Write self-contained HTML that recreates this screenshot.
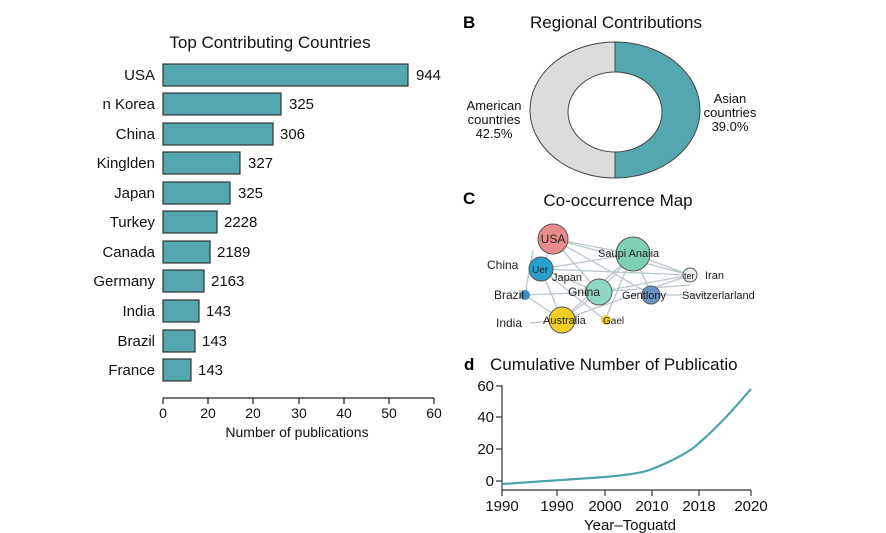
<!DOCTYPE html>
<html><head><style>
body{margin:0;background:#fff;}
svg{display:block;font-family:"Liberation Sans",sans-serif;}
</style></head><body>
<svg width="886" height="533" viewBox="0 0 886 533">
<text x="270" y="48" font-size="17" text-anchor="middle" fill="#111">Top Contributing Countries</text>
<g font-size="15" fill="#111">
<g stroke="#333" stroke-width="1.2" fill="#55a7af">
<rect x="163" y="64" width="245" height="22"/>
<rect x="163" y="93" width="118" height="22"/>
<rect x="163" y="123" width="110" height="22"/>
<rect x="163" y="152" width="77" height="22"/>
<rect x="163" y="182" width="67" height="22"/>
<rect x="163" y="211" width="54" height="22"/>
<rect x="163" y="241" width="47" height="22"/>
<rect x="163" y="270" width="41" height="22"/>
<rect x="163" y="300" width="36" height="22"/>
<rect x="163" y="330" width="32" height="22"/>
<rect x="163" y="359" width="28" height="22"/>
</g>
<g text-anchor="end">
<text x="155" y="80">USA</text><text x="155" y="109">n Korea</text><text x="155" y="139">China</text>
<text x="155" y="168">Kinglden</text><text x="155" y="198">Japan</text><text x="155" y="227">Turkey</text>
<text x="155" y="257">Canada</text><text x="155" y="286">Germany</text><text x="155" y="316">India</text>
<text x="155" y="346">Brazil</text><text x="155" y="375">France</text>
</g>
<text x="416" y="80">944</text><text x="289" y="109">325</text><text x="280" y="139">306</text>
<text x="248" y="168">327</text><text x="238" y="198">325</text><text x="224" y="227">2228</text>
<text x="217" y="257">2189</text><text x="211" y="286">2163</text><text x="206" y="316">143</text>
<text x="202" y="346">143</text><text x="198" y="375">143</text>
</g>
<rect x="0" y="60" width="93" height="330" fill="#fff"/>
<g stroke="#222" stroke-width="1.2">
<line x1="163" y1="398" x2="434" y2="398"/>
<line x1="163" y1="398" x2="163" y2="404"/><line x1="208" y1="398" x2="208" y2="404"/>
<line x1="253" y1="398" x2="253" y2="404"/><line x1="299" y1="398" x2="299" y2="404"/>
<line x1="344" y1="398" x2="344" y2="404"/><line x1="389" y1="398" x2="389" y2="404"/>
<line x1="434" y1="398" x2="434" y2="404"/>
</g>
<g font-size="14" text-anchor="middle" fill="#111">
<text x="163" y="418">0</text><text x="208" y="418">20</text><text x="253" y="418">20</text>
<text x="299" y="418">30</text><text x="344" y="418">40</text><text x="389" y="418">50</text><text x="434" y="418">60</text>
<text x="297" y="437">Number of publications</text>
</g>

<text x="463" y="28" font-size="17" font-weight="bold">B</text>
<text x="616" y="28" font-size="17" text-anchor="middle" fill="#111">Regional Contributions</text>
<path d="M615 42 A85 68 0 0 0 615 178 L615 152 A47 40 0 0 1 615 72 Z" fill="#dcdcdc" stroke="#444"/>
<path d="M615 42 A85 68 0 0 1 615 178 L615 152 A47 40 0 0 0 615 72 Z" fill="#55a7af" stroke="#444"/>
<g font-size="13" text-anchor="middle" fill="#111">
<text x="494" y="110">American</text><text x="494" y="124">countries</text><text x="494" y="138">42.5%</text>
<text x="730" y="103">Asian</text><text x="730" y="117">countries</text><text x="730" y="131">39.0%</text>
</g>

<text x="463" y="204" font-size="17" font-weight="bold">C</text>
<text x="618" y="206" font-size="17" text-anchor="middle" fill="#111">Co-occurrence Map</text>
<g stroke="#b9c6cb" stroke-width="1.3">
<line x1="553" y1="239" x2="633" y2="254"/><line x1="553" y1="239" x2="599" y2="292"/>
<line x1="553" y1="239" x2="690" y2="275"/><line x1="553" y1="239" x2="542" y2="270"/>
<line x1="553" y1="239" x2="652" y2="295"/><line x1="541" y1="269" x2="633" y2="254"/>
<line x1="541" y1="269" x2="599" y2="292"/><line x1="541" y1="269" x2="562" y2="320"/>
<line x1="633" y1="254" x2="599" y2="292"/><line x1="633" y1="254" x2="562" y2="320"/>
<line x1="633" y1="254" x2="690" y2="275"/><line x1="633" y1="254" x2="652" y2="295"/>
<line x1="599" y1="292" x2="690" y2="275"/><line x1="599" y1="292" x2="562" y2="320"/>
<line x1="525" y1="295" x2="599" y2="292"/><line x1="525" y1="295" x2="562" y2="320"/>
<line x1="530" y1="323" x2="562" y2="320"/><line x1="562" y1="320" x2="690" y2="275"/>
<line x1="652" y1="295" x2="710" y2="295"/><line x1="605" y1="320" x2="633" y2="254"/>
<line x1="541" y1="269" x2="605" y2="320"/><line x1="533" y1="250" x2="525" y2="295"/>
<line x1="599" y1="292" x2="690" y2="285"/><line x1="541" y1="269" x2="690" y2="275"/>
</g>
<circle cx="553" cy="239" r="15" fill="#e98b8b" stroke="#555"/>
<circle cx="633" cy="254" r="17" fill="#7fcfb7" stroke="#555"/>
<circle cx="541" cy="269" r="12" fill="#2a9fcb" stroke="#555"/>
<circle cx="599" cy="292" r="13" fill="#8fd6c4" stroke="#555"/>
<circle cx="651" cy="295" r="9" fill="#6c93c9" stroke="#555"/>
<circle cx="690" cy="275" r="7" fill="#eee" stroke="#555"/>
<circle cx="562" cy="320" r="13" fill="#f0cd29" stroke="#555"/>
<circle cx="606" cy="320" r="5" fill="#f0cd29"/>
<circle cx="525" cy="295" r="5" fill="#3a8fc4"/>
<g font-size="11" fill="#222">
<text x="553" y="243" text-anchor="middle" font-size="12">USA</text>
<text x="598" y="257">Saupi Anaiia</text>
<text x="487" y="269" font-size="12">China</text>
<text x="532" y="273" font-size="10">Uer</text>
<text x="552" y="281">Japan</text>
<text x="494" y="299" font-size="12">Brazil</text>
<text x="568" y="296" font-size="12">Gnina</text>
<text x="622" y="299">Gentlony</text>
<text x="682" y="299">Savitzerlarland</text>
<text x="684" y="279" font-size="9">ter</text><text x="705" y="279">Iran</text>
<text x="496" y="327" font-size="12">India</text>
<text x="543" y="324">Australia</text>
<text x="603" y="324" font-size="10">Gael</text>
</g>

<text x="464" y="370" font-size="17" font-weight="bold">d</text>
<text x="490" y="370" font-size="17" fill="#111">Cumulative Number of Publicatio</text>
<g stroke="#333" stroke-width="1.2">
<line x1="502" y1="385" x2="502" y2="490"/>
<line x1="496" y1="386" x2="502" y2="386"/><line x1="496" y1="417" x2="502" y2="417"/>
<line x1="496" y1="449" x2="502" y2="449"/><line x1="496" y1="481" x2="502" y2="481"/>
<line x1="502" y1="490" x2="751" y2="490"/>
<line x1="502" y1="490" x2="502" y2="496"/><line x1="557" y1="490" x2="557" y2="496"/>
<line x1="605" y1="490" x2="605" y2="496"/><line x1="652" y1="490" x2="652" y2="496"/>
<line x1="699" y1="490" x2="699" y2="496"/><line x1="751" y1="490" x2="751" y2="496"/>
</g>
<g font-size="15" fill="#111">
<g text-anchor="end"><text x="494" y="391">60</text><text x="494" y="422">40</text><text x="494" y="454">20</text><text x="494" y="486">0</text></g>
<g text-anchor="middle"><text x="502" y="511">1990</text><text x="557" y="511">1990</text><text x="605" y="511">2000</text>
<text x="652" y="511">2010</text><text x="699" y="511">2018</text><text x="751" y="511">2020</text>
<text x="630" y="530">Year–Toguatd</text></g>
</g>
<path d="M502 484 C530 482 560 480 605 477 C630 475 645 472 652 469 C670 462 690 452 699 443 C720 425 738 404 751 389" fill="none" stroke="#4aa3ad" stroke-width="2.2"/>
</svg>
</body></html>
